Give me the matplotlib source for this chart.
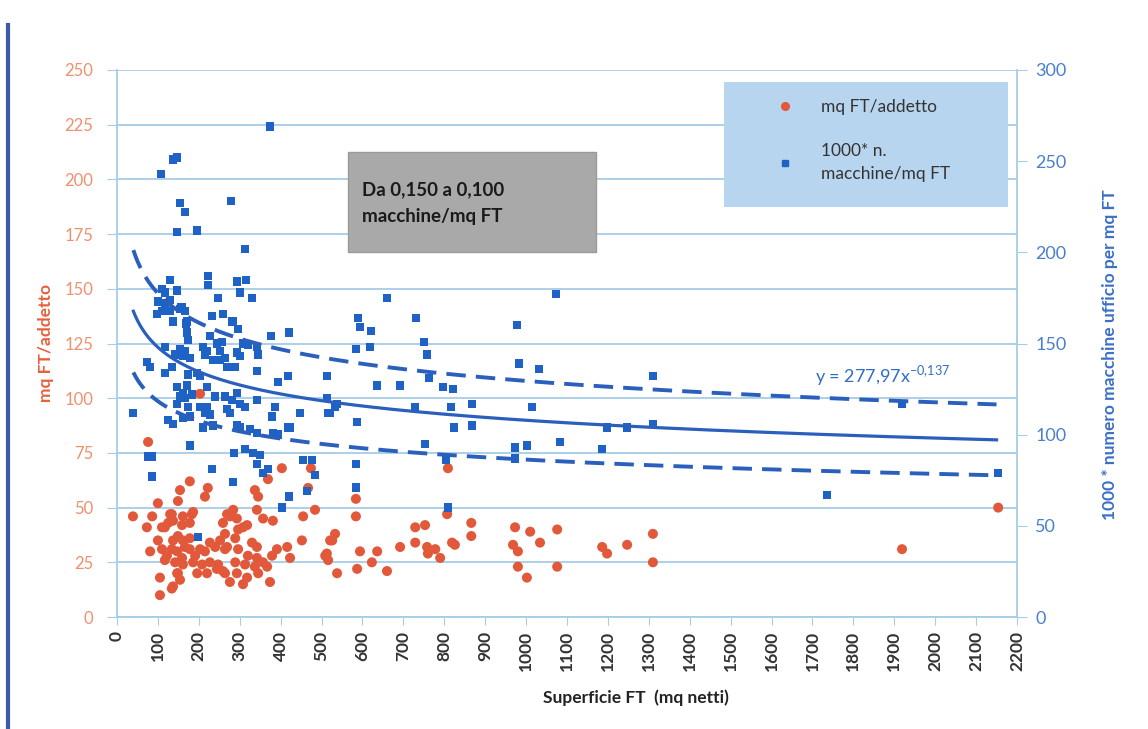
import numpy as np
import matplotlib
matplotlib.use("Agg")
import matplotlib.pyplot as plt
from matplotlib.patches import Rectangle
from matplotlib.lines import Line2D

plt.rcParams['font.family'] = ['Lato', 'DejaVu Sans']

# mq FT / addetto  (left axis)
add_x = [76, 403, 178, 222, 215, 154, 149, 100, 39, 86,
         73, 100, 81, 105, 105, 137, 149, 110, 130, 137,
         183, 178, 284, 293, 308, 269, 337, 345, 369, 342,
         357, 381, 455, 484, 452, 416, 423, 379, 391, 374,
         276, 308, 521, 513, 516, 538, 134, 125, 161, 159,
         186, 117, 149, 137, 161, 178, 110, 122, 134, 147,
         159, 166, 178, 191, 203, 215, 227, 240, 252, 264,
         117, 142, 161, 186, 208, 227, 247, 147, 154, 196,
         220, 244, 134, 264, 276, 259, 296, 318, 264, 289,
         330, 342, 269, 296, 320, 342, 289, 313, 337, 357,
         259, 293, 318, 345, 367, 584, 584, 594, 587, 623,
         636, 660, 692, 729, 753, 729, 758, 760, 790, 778,
         819, 826, 807, 809, 866, 866, 973, 1010, 1034, 968,
         980, 980, 1002, 1076, 1076, 1186, 1198, 1247, 1310, 1310,
         1919, 2154, 474, 467, 203, 533, 526, 509]
add_y = [80, 68, 62, 59, 55, 58, 53, 52, 46, 46,
         41, 35, 30, 18, 10, 14, 20, 41, 47, 44,
         47, 43, 49, 45, 41, 47, 58, 55, 63, 49,
         45, 44, 46, 49, 35, 32, 27, 28, 31, 16,
         16, 15, 35, 29, 26, 20, 47, 43, 46, 42,
         48, 41, 37, 35, 35, 36, 31, 28, 31, 30,
         27, 32, 31, 28, 31, 30, 34, 32, 35, 31,
         26, 25, 24, 25, 24, 25, 24, 20, 17, 20,
         20, 22, 13, 20, 46, 43, 40, 42, 38, 36,
         34, 32, 32, 31, 28, 27, 25, 24, 23, 25,
         21, 20, 18, 20, 23, 54, 46, 30, 22, 25,
         30, 21, 32, 41, 42, 34, 32, 29, 27, 31,
         34, 33, 47, 68, 43, 37, 41, 39, 34, 33,
         30, 23, 18, 40, 23, 32, 29, 33, 38, 25,
         31, 50, 68, 59, 102, 38, 35, 28]

# 1000 * n. macchine / mq FT  (right axis)
mac_x = [374, 108, 137, 147, 154, 166, 147, 195, 279, 313,
         130, 222, 222, 293, 315, 147, 247, 301, 330, 98,
         110, 117, 100, 117, 130, 137, 158, 169, 232, 259,
         282, 296, 376, 421, 110, 130, 154, 166, 171, 171,
         227, 244, 174, 117, 154, 166, 210, 220, 252, 142,
         161, 178, 215, 235, 252, 73, 81, 134, 117, 174,
         196, 203, 171, 147, 161, 220, 154, 166, 183, 240,
         264, 147, 174, 203, 220, 39, 215, 227, 125, 137,
         161, 178, 210, 235, 257, 308, 320, 342, 345, 293,
         301, 264, 269, 289, 342, 394, 418, 513, 281, 293,
         301, 313, 342, 386, 379, 447, 513, 521, 533, 269,
         276, 293, 301, 325, 342, 381, 394, 418, 660, 589,
         594, 621, 584, 619, 731, 751, 758, 978, 1073, 983,
         1032, 636, 692, 763, 797, 821, 538, 516, 729, 817,
         868, 587, 1015, 824, 868, 753, 973, 1002, 1083, 455,
         477, 484, 584, 804, 973, 465, 584, 809, 1310, 1198,
         1247, 1310, 1186, 1919, 1736, 2154, 76, 86, 86, 178,
         232, 198, 284, 286, 313, 333, 350, 342, 357, 369,
         403, 421, 423]
mac_y = [269, 243, 251, 252, 227, 222, 211, 212, 228, 202,
         185, 187, 182, 184, 185, 179, 175, 178, 175, 166,
         180, 178, 173, 172, 174, 162, 170, 161, 165, 166,
         162, 158, 154, 156, 168, 168, 169, 168, 162, 156,
         154, 150, 152, 148, 147, 146, 148, 146, 146, 144,
         143, 142, 144, 141, 141, 140, 137, 137, 134, 133,
         134, 132, 127, 126, 123, 126, 121, 120, 122, 121,
         121, 117, 115, 115, 115, 112, 112, 111, 108, 106,
         109, 110, 104, 105, 151, 150, 149, 148, 144, 145,
         143, 142, 137, 137, 135, 129, 132, 132, 119, 123,
         117, 115, 119, 115, 110, 112, 120, 112, 115, 114,
         112, 105, 104, 103, 101, 101, 100, 104, 175, 164,
         159, 157, 147, 148, 164, 151, 144, 160, 177, 139,
         136, 127, 127, 131, 126, 125, 117, 112, 115, 115,
         117, 107, 115, 104, 105, 95, 93, 94, 96, 86,
         86, 78, 84, 86, 87, 69, 71, 60, 132, 104,
         104, 106, 92, 117, 67, 79, 88, 88, 77, 94,
         81, 44, 74, 90, 92, 90, 89, 84, 79, 81,
         60, 66, 104]

# power trend shown on the chart, with +/-20% band
trend_a = 277.97
trend_b = -0.137
band_hi, band_lo = 1.2, 0.8
trend_range = (40, 2150)

x_ticks = list(range(0, 2201, 100))
left_ticks = list(range(0, 251, 25))
right_ticks = list(range(0, 301, 50))

c_orange = '#e2583a'
c_blue = '#1f62c6'
c_line = '#2a5fbc'
c_grid = '#a6cde6'

fig = plt.figure(figsize=(11.48, 7.29), dpi=100)
ax = fig.add_axes([117/1148, 1-617/729, 900/1148, 547/729])
ax2 = ax.twinx()

ax.set_xlim(0, 2200)
ax.set_ylim(0, 250)
ax2.set_ylim(0, 300)
ax.set_xticks(x_ticks)
ax.set_xticklabels([str(v) for v in x_ticks], rotation=90, fontsize=12.5,
                   fontweight='bold', color='#333333')
ax.set_yticks(left_ticks)
ax.set_yticklabels([str(v) for v in left_ticks], fontsize=12, color='#f0906e')
ax2.set_yticks(right_ticks)
ax2.set_yticklabels([str(v) for v in right_ticks], fontsize=13, color='#4a7fd0')

ax.yaxis.grid(True, color=c_grid, lw=1.3)
ax.set_axisbelow(True)
for s in ['top', 'right']:
    ax.spines[s].set_visible(False)
for s in ['top', 'left', 'bottom']:
    ax2.spines[s].set_visible(False)
ax.spines['left'].set_color(c_grid)
ax.spines['bottom'].set_color(c_grid)
ax2.spines['right'].set_color(c_grid)
for sp in [ax.spines['left'], ax.spines['bottom'], ax2.spines['right']]:
    sp.set_linewidth(1.3)
ax.tick_params(axis='x', direction='out', length=6, color=c_grid, pad=4)
ax.tick_params(axis='y', direction='out', length=7, color=c_grid, pad=10)
ax2.tick_params(axis='y', direction='out', length=7, color=c_grid, pad=6)

ax.scatter(add_x, add_y, s=52, marker='o', color=c_orange, edgecolors='none', zorder=3)
ax2.scatter(mac_x, mac_y, s=36, marker='s', color=c_blue, edgecolors='none', zorder=3)

xs = np.linspace(trend_range[0], trend_range[1], 400)
trend = trend_a * xs ** trend_b
ax2.plot(xs, trend, color=c_line, lw=2.3, zorder=4)
ax2.plot(xs, trend * band_hi, color=c_line, lw=2.8, ls=(0, (5, 2.6)), zorder=4)
ax2.plot(xs, trend * band_lo, color=c_line, lw=2.8, ls=(0, (5, 2.6)), zorder=4)
ax2.text(0.776, 0.442, r'y = 277,97x$^{\mathregular{-0{,}137}}$', transform=ax2.transAxes,
         fontsize=13, color='#2f6ec4', va='center', ha='left')

# gray annotation box
ax2.add_patch(Rectangle((0.2567, 0.667), 0.2753, 0.183, transform=ax2.transAxes,
                        facecolor='#a9a9a9', edgecolor='#9a9a9a', lw=1, zorder=5))
ax2.text(0.272, 0.756, 'Da 0,150 a 0,100\nmacchine/mq FT', transform=ax2.transAxes,
         fontsize=13.5, fontweight='bold', color='#1a1a1a', va='center', ha='left',
         linespacing=1.7, zorder=6)

# legend box
ax2.add_patch(Rectangle((0.6744, 0.7495), 0.3156, 0.2285, transform=ax2.transAxes,
                        facecolor='#b7d5ef', edgecolor='none', zorder=5))
handles = [Line2D([], [], ls='none', marker='o', ms=5.5, color=c_orange),
           Line2D([], [], ls='none', marker='s', ms=4.5, color=c_blue)]
leg = ax2.legend(handles, ['mq FT/addetto', '1000* n.\nmacchine/mq FT'],
                 loc='upper left', bbox_to_anchor=(0.715, 0.975), frameon=False,
                 fontsize=12.5, handlelength=1.0, handletextpad=1.6, labelspacing=1.6)
leg.set_zorder(6)
for t in leg.get_texts():
    t.set_color('#333333')
    t.set_linespacing(1.5)

ax.set_ylabel('mq FT/addetto', fontsize=12.5, fontweight='bold', color='#e8603c')
ax.yaxis.set_label_coords(-0.07, 0.5)
ax2.set_ylabel('1000 * numero macchine ufficio per mq FT', fontsize=12.5,
               fontweight='bold', color='#3b6fc8', rotation=90)
ax2.yaxis.set_label_coords(1.095, 0.48)
ax.set_xlabel('Superficie FT  (mq netti)', fontsize=12.5, fontweight='bold', color='#222222')
ax.xaxis.set_label_coords(0.577, -0.132)

# outer frame on the left
fig.add_artist(Line2D([8/1148, 8/1148], [0, 1 - 25/729], transform=fig.transFigure,
                      color='#3c59a8', lw=3))

fig.savefig('out.png', dpi=100)
